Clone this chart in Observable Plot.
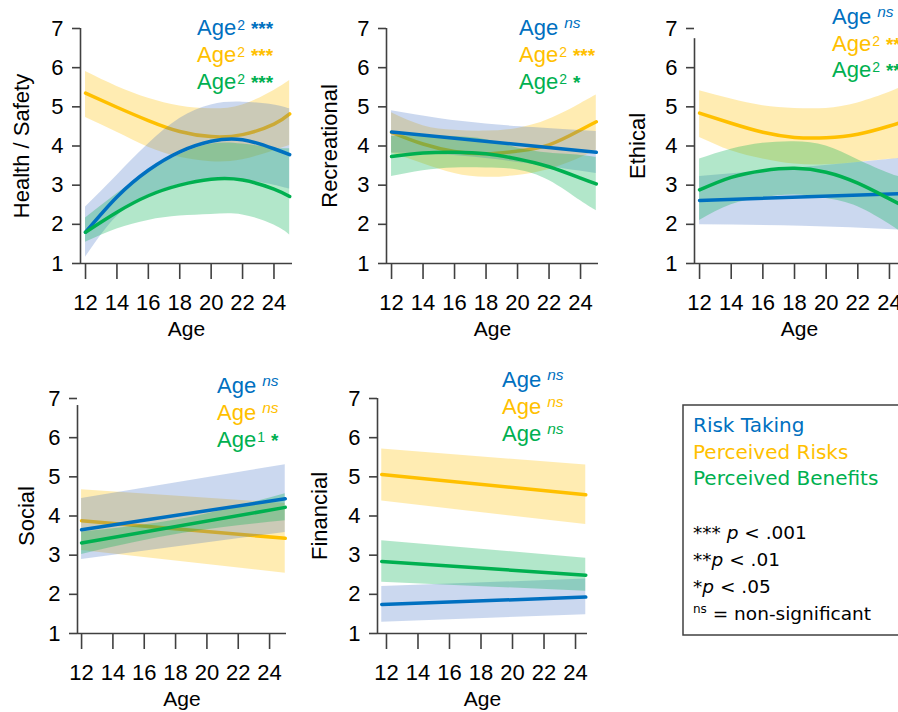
<!DOCTYPE html>
<html><head><meta charset="utf-8">
<script src="https://cdn.jsdelivr.net/npm/d3@7"></script>
<script src="https://cdn.jsdelivr.net/npm/@observablehq/plot@0.6"></script>
<style>
html,body{margin:0;padding:0;background:#fff;overflow:hidden}
#wrap{position:relative;width:898px;height:712px;overflow:hidden;background:#fff}
.pane{position:absolute}
.pane svg{display:block;max-width:none !important}
</style></head>
<body><div id="wrap"></div>
<script>
// ---------------- DATA ----------------
const seriesNames = ["Risk Taking", "Perceived Risks", "Perceived Benefits"];
const yTicks = [1, 2, 3, 4, 5, 6, 7];
const xTicks = [12, 14, 16, 18, 20, 22, 24];

// Health / Safety
const hsAges = [12, 14, 16, 18, 20, 22, 24, 25];
const hsRT   = [1.80, 2.70, 3.38, 3.85, 4.12, 4.16, 3.93, 3.78];
const hsRTlo = [1.16, 2.20, 2.75, 3.02, 3.16, 3.14, 3.00, 2.90];
const hsRThi = [2.44, 3.25, 4.05, 4.70, 5.05, 5.12, 5.05, 4.95];
const hsPR   = [5.35, 4.99, 4.65, 4.37, 4.24, 4.29, 4.56, 4.82];
const hsPRlo = [4.73, 4.35, 3.97, 3.71, 3.60, 3.65, 3.88, 4.01];
const hsPRhi = [5.90, 5.52, 5.22, 5.02, 4.95, 5.05, 5.42, 5.67];
const hsPB   = [1.80, 2.31, 2.73, 3.00, 3.15, 3.13, 2.90, 2.71];
const hsPBlo = [1.54, 1.88, 2.10, 2.21, 2.25, 2.24, 1.98, 1.73];
const hsPBhi = [2.16, 2.78, 3.35, 3.78, 4.05, 4.05, 3.95, 3.93];
const hsTerms = ["2", "2", "2"];
const hsSigs  = ["***", "***", "***"];

// Recreational
const recAges     = [12, 14, 16, 18, 20, 22, 24, 25];
const recLinAges  = [12, 25];
const recBandAges = [12, 15, 18, 21, 25];
const recRT   = [4.36, 3.84];
const recRTlo = [3.82, 3.78, 3.68, 3.53, 3.30];
const recRThi = [4.90, 4.70, 4.56, 4.47, 4.37];
const recPR   = [4.35, 4.05, 3.86, 3.80, 3.87, 4.03, 4.41, 4.62];
const recPRlo = [3.82, 3.55, 3.30, 3.20, 3.25, 3.40, 3.70, 3.90];
const recPRhi = [4.85, 4.52, 4.40, 4.38, 4.45, 4.68, 5.08, 5.30];
const recPB   = [3.73, 3.82, 3.84, 3.80, 3.67, 3.47, 3.18, 3.03];
const recPBlo = [3.22, 3.37, 3.44, 3.44, 3.39, 3.12, 2.60, 2.35];
const recPBhi = [4.24, 4.27, 4.24, 4.16, 3.95, 3.82, 3.76, 3.71];
const recTerms = [null, "2", "2"];
const recSigs  = ["ns", "***", "*"];

// Ethical
const ethAges     = [12, 14, 16, 18, 20, 22, 24, 25];
const ethLinAges  = [12, 25];
const ethBandAges = [12, 18.5, 25];
const ethRT   = [2.61, 2.79];
const ethRTlo = [1.99, 1.95, 1.85];
const ethRThi = [3.22, 3.45, 3.70];
const ethPR   = [4.84, 4.58, 4.35, 4.22, 4.21, 4.30, 4.51, 4.64];
const ethPRlo = [4.22, 3.88, 3.67, 3.54, 3.52, 3.58, 3.66, 3.68];
const ethPRhi = [5.41, 5.20, 5.03, 4.96, 4.96, 5.10, 5.37, 5.55];
const ethPB   = [2.88, 3.20, 3.37, 3.43, 3.33, 3.05, 2.65, 2.45];
const ethPBlo = [2.10, 2.50, 2.68, 2.75, 2.66, 2.45, 2.00, 1.73];
const ethPBhi = [3.67, 3.92, 4.07, 4.11, 4.00, 3.65, 3.30, 3.17];
const ethTerms = [null, "2", "2"];
const ethSigs  = ["ns", "**", "**"];

// Social
const socAges       = [12, 25];
const socPBBandAges = [12, 18.5, 25];
const socRT   = [3.65, 4.44];
const socRTlo = [2.89, 3.58];
const socRThi = [4.45, 5.31];
const socPR   = [3.88, 3.43];
const socPRlo = [3.12, 2.54];
const socPRhi = [4.67, 4.32];
const socPB   = [3.31, 4.22];
const socPBlo = [3.02, 3.56, 3.88];
const socPBhi = [3.59, 3.93, 4.57];
const socTerms = [null, null, "1"];
const socSigs  = ["ns", "ns", "*"];

// Financial
const finAges = [11.7, 24.65];
const finRT   = [1.74, 1.93];
const finRTlo = [1.29, 1.48];
const finRThi = [2.20, 2.39];
const finPR   = [5.06, 4.54];
const finPRlo = [4.38, 3.78];
const finPRhi = [5.71, 5.30];
const finPB   = [2.84, 2.49];
const finPBlo = [2.31, 2.08];
const finPBhi = [3.37, 2.92];
const finTerms = [null, null, null];
const finSigs  = ["ns", "ns", "ns"];

const sigLegend = [["***", " ", "p", " < .001"], ["**", "", "p", " < .01"], ["*", "", "p", " < .05"]];

// ---------------- STYLE ----------------
const FONT = '"Liberation Sans", Arial, Helvetica, sans-serif';
const LFONT = '"DejaVu Sans", Verdana, sans-serif';
const KEYS = ["RT", "PR", "PB"];
const LINE = {RT: "#0070C0", PR: "#FFC000", PB: "#00B050"};
const BAND = {RT: "#4472C4", PR: "#FFC000", PB: "#00B050"};
const BANDOP = {RT: 0.28, PR: 0.30, PB: 0.30};
const AX = "#404040";

const panels = [
  {left: 0,   top: 0,   w: 298, h: 345, ml: 80, mr: 6,  mt: 28, mb: 82, xd: [11.68, 25.18], ytop: 7,    ylab: "Health / Safety", ydx: -58.5, ax: 197, ay: 35,  ast: 27,
   S: {RT: [hsAges, hsRT, hsAges, hsRTlo, hsRThi], PR: [hsAges, hsPR, hsAges, hsPRlo, hsPRhi], PB: [hsAges, hsPB, hsAges, hsPBlo, hsPBhi]}, terms: hsTerms, sigs: hsSigs},
  {left: 300, top: 0,   w: 300, h: 345, ml: 86, mr: 2,  mt: 28, mb: 82, xd: [11.68, 25.14], ytop: 7,    ylab: "Recreational", ydx: -57, ax: 519, ay: 35, ast: 27,
   S: {RT: [recLinAges, recRT, recBandAges, recRTlo, recRThi], PR: [recAges, recPR, recAges, recPRlo, recPRhi], PB: [recAges, recPB, recAges, recPBlo, recPBhi]}, terms: recTerms, sigs: recSigs},
  {left: 600, top: 0,   w: 310, h: 345, ml: 94, mr: 6,  mt: 28, mb: 82, xd: [11.68, 24.95], ytop: 6.74, ylab: "Ethical", ydx: -57, ax: 832, ay: 24, ast: 26.5,
   S: {RT: [ethLinAges, ethRT, ethBandAges, ethRTlo, ethRThi], PR: [ethAges, ethPR, ethAges, ethPRlo, ethPRhi], PB: [ethAges, ethPB, ethAges, ethPBlo, ethPBhi]}, terms: ethTerms, sigs: ethSigs},
  {left: 0,   top: 360, w: 298, h: 352, ml: 77, mr: 12, mt: 38, mb: 79, xd: [11.74, 25.08], ytop: 6.82, ylab: "Social", ydx: -51, ax: 217, ay: 393, ast: 27,
   S: {RT: [socAges, socRT, socAges, socRTlo, socRThi], PR: [socAges, socPR, socAges, socPRlo, socPRhi], PB: [socAges, socPB, socPBBandAges, socPBlo, socPBhi]}, terms: socTerms, sigs: socSigs},
  {left: 300, top: 360, w: 298, h: 352, ml: 77, mr: 11, mt: 38, mb: 79, xd: [11.43, 24.76], ytop: 7,    ylab: "Financial", ydx: -58, ax: 502, ay: 387, ast: 27,
   S: {RT: [finAges, finRT, finAges, finRTlo, finRThi], PR: [finAges, finPR, finAges, finPRlo, finPRhi], PB: [finAges, finPB, finAges, finPBlo, finPBhi]}, terms: finTerms, sigs: finSigs}
];

const wrap = document.getElementById("wrap");

function fitRows(ages, vals) { return ages.map((a, i) => ({age: a, v: vals[i]})); }
function bandRows(ages, lo, hi) { return ages.map((a, i) => ({age: a, lo: lo[i], hi: hi[i]})); }

panels.forEach(cfg => {
  const band = k => Plot.areaY(bandRows(cfg.S[k][2], cfg.S[k][3], cfg.S[k][4]),
    {x: "age", y1: "lo", y2: "hi", fill: BAND[k], fillOpacity: BANDOP[k], curve: "natural"});
  const line = k => Plot.line(fitRows(cfg.S[k][0], cfg.S[k][1]),
    {x: "age", y: "v", stroke: LINE[k], strokeWidth: 3.5, curve: "natural"});

  const svg = Plot.plot({
    width: cfg.w, height: cfg.h,
    marginLeft: cfg.ml, marginRight: cfg.mr, marginTop: cfg.mt, marginBottom: cfg.mb,
    x: {domain: cfg.xd, label: null},
    y: {domain: [1, 7], label: null},
    style: {fontFamily: FONT, background: "transparent", color: "#000", overflow: "visible", maxWidth: "none"},
    marks: [
      band("PR"), line("PR"),
      band("RT"), band("PB"),
      line("RT"), line("PB"),
      Plot.ruleY([1], {stroke: AX, strokeWidth: 1.6}),
      Plot.ruleX([cfg.xd[0]], {y1: () => 1, y2: () => cfg.ytop, stroke: AX, strokeWidth: 1.6}),
      Plot.axisY({ticks: yTicks, tickFormat: d => String(d), tickSize: 8, tickPadding: 9, fontSize: 22, label: null, stroke: AX, fill: "#000", strokeWidth: 1.6}),
      Plot.axisX({ticks: xTicks, tickFormat: d => String(d), tickSize: 16, tickPadding: 15, fontSize: 22, label: null, stroke: AX, fill: "#000", strokeWidth: 1.6}),
      Plot.text([cfg.ylab], {text: d => d, frameAnchor: "left", rotate: -90, dx: cfg.ydx, fontSize: 22, lineAnchor: "middle", textAnchor: "middle", fill: "#000"}),
      Plot.text(["Age"], {text: d => d, frameAnchor: "bottom", dy: 66, fontSize: 21, lineAnchor: "middle", textAnchor: "middle", fill: "#000"})
    ]
  });
  svg.style.maxWidth = "none";
  svg.setAttribute("width", cfg.w);
  svg.setAttribute("height", cfg.h);
  svg.style.width = cfg.w + "px";
  svg.style.height = cfg.h + "px";

  // significance annotations (Age terms) in the upper right of each panel
  const g = d3.select(svg).append("g").attr("font-family", FONT)
    .attr("text-anchor", "start").style("white-space", "pre");
  KEYS.forEach((k, i) => {
    const t = g.append("text")
      .attr("text-anchor", "start")
      .attr("x", cfg.ax - cfg.left)
      .attr("y", cfg.ay - cfg.top + i * cfg.ast)
      .attr("fill", LINE[k]).attr("font-size", 22);
    t.append("tspan").text("Age");
    const term = cfg.terms[i], sig = cfg.sigs[i];
    if (term) {
      t.append("tspan").attr("font-size", 14).attr("dx", 1).attr("dy", -5).text(term);
      t.append("tspan").attr("font-size", 19).attr("font-weight", "bold").attr("dx", 6).attr("dy", 5).text(sig);
    } else {
      t.append("tspan").attr("font-size", 15.5).attr("font-style", "italic").attr("dx", 6).attr("dy", -7).text(sig);
    }
  });

  const div = document.createElement("div");
  div.className = "pane";
  div.style.left = cfg.left + "px";
  div.style.top = cfg.top + "px";
  div.style.width = cfg.w + "px";
  div.style.height = cfg.h + "px";
  div.appendChild(svg);
  wrap.appendChild(div);
});

// ---------------- LEGEND ----------------
const L = d3.create("svg").attr("width", 228).attr("height", 250)
  .style("position", "absolute").style("left", "670px").style("top", "390px")
  .style("white-space", "pre");
L.append("rect").attr("x", 13).attr("y", 15).attr("width", 240).attr("height", 230)
  .attr("fill", "none").attr("stroke", AX).attr("stroke-width", 1.5);
seriesNames.forEach((name, i) => {
  L.append("text").attr("x", 23).attr("y", 42 + i * 26.5)
    .attr("font-family", LFONT).attr("font-size", 20)
    .attr("fill", LINE[KEYS[i]]).text(name);
});
sigLegend.forEach((parts, i) => {
  const t = L.append("text").attr("x", 23).attr("y", 149 + i * 27)
    .attr("font-family", LFONT).attr("font-size", 18.5).attr("fill", "#000");
  t.append("tspan").text(parts[0] + parts[1]);
  t.append("tspan").attr("font-style", "italic").text(parts[2]);
  t.append("tspan").text(parts[3]);
});
{
  const t = L.append("text").attr("x", 23).attr("y", 230)
    .attr("font-family", LFONT).attr("font-size", 18.5).attr("fill", "#000");
  t.append("tspan").attr("font-size", 12).attr("dy", -7).text("ns");
  t.append("tspan").attr("dy", 7).text(" = non-significant");
}
wrap.appendChild(L.node());
</script>
</body></html>
